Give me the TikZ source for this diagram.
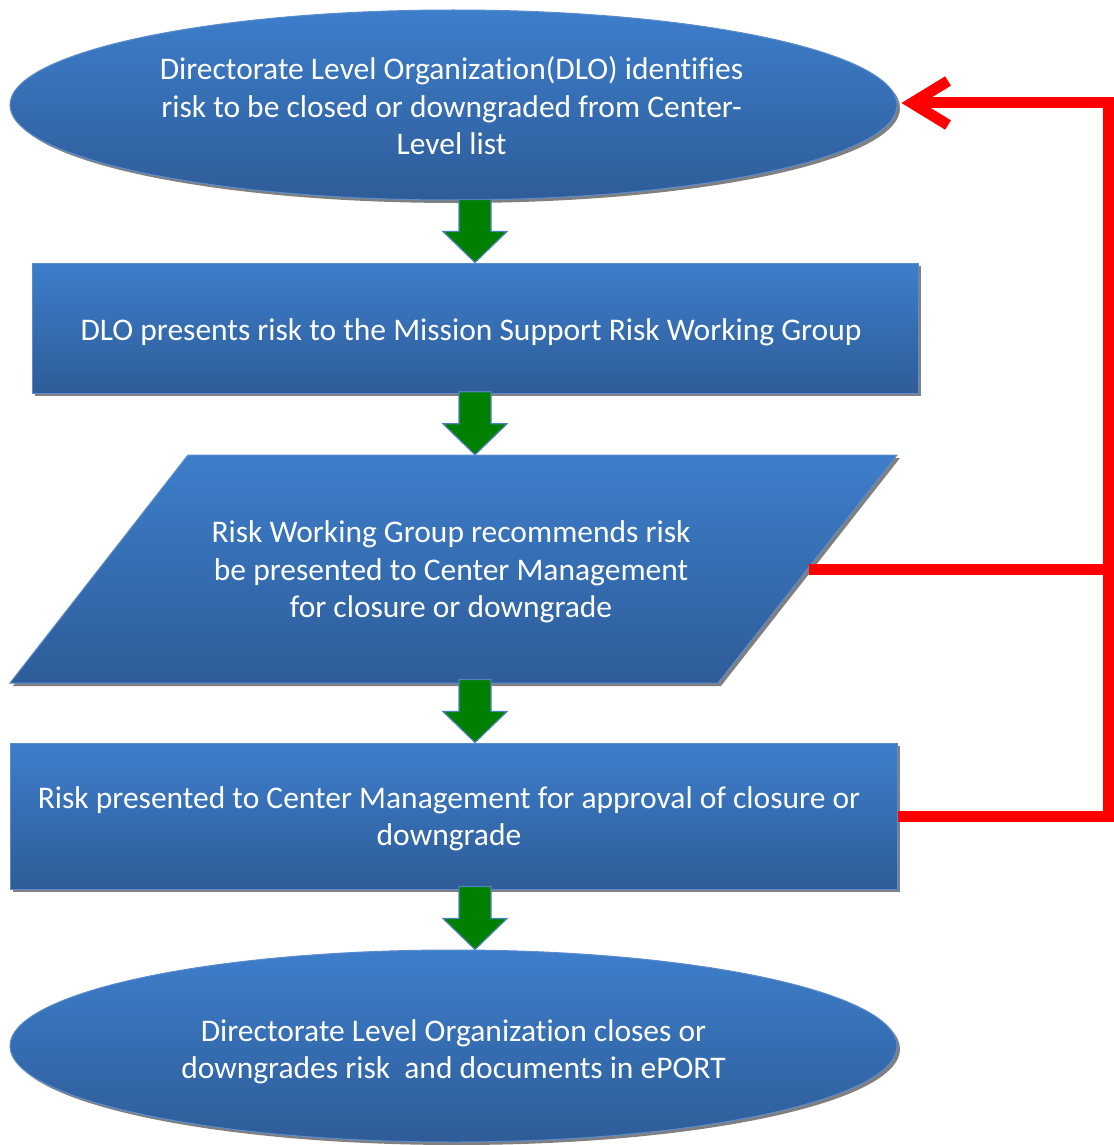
\documentclass[tikz,border=0pt]{standalone}
\usepackage{fontspec}
\setmainfont{Carlito}[Ligatures=NoCommon]
\usetikzlibrary{shapes.geometric,shadows,arrows.meta,calc}
\definecolor{bluetop}{RGB}{61,126,203}
\definecolor{bluebot}{RGB}{46,92,152}
\definecolor{blueedge}{RGB}{93,140,205}
\definecolor{garrowfill}{RGB}{0,128,0}
\definecolor{garrowedge}{RGB}{79,129,189}
\begin{document}
\begin{tikzpicture}[x=1pt,y=-1pt,
  shapefill/.style={draw=blueedge, line width=1pt, top color=bluetop, bottom color=bluebot,
    drop shadow={shadow xshift=3pt, shadow yshift=-3pt, fill=black!50, opacity=1}, inner sep=0pt},
  label/.style={text=white, font=\fontsize{31.5}{37.5}\selectfont, align=center, inner sep=0pt},
  garrow/.style={fill=garrowfill, draw=garrowedge, line width=1.2pt, line join=miter},
  redline/.style={draw=red, line width=11pt, line join=miter}
]
\useasboundingbox (0,0) rectangle (1113,1145);

% shapes
\node[shapefill, ellipse, minimum width=887pt, minimum height=190pt] (e1) at (453.5,105) {};
\node[shapefill, rectangle, minimum width=886pt, minimum height=130pt] (r2) at (475,328) {};
\path[shapefill] (188,455) -- (897,455) -- (718,683) -- (10,683) -- cycle;
\coordinate (p3e) at (809,569);
\node[shapefill, rectangle, minimum width=887pt, minimum height=146pt] (r4) at (453.5,816) {};
\node[shapefill, ellipse, minimum width=887pt, minimum height=192pt] (e5) at (453.5,1046) {};

% texts
\node[label] (e1t) at (451.5,106)
  {Directorate Level Organization(DLO) identifies\\risk to be closed or downgraded from Center-\\Level list};
\node[label] (r2t) at (471,332)
  {DLO presents risk to the Mission Support Risk Working Group};
\node[label, minimum height=234pt] (p3) at (451,572)
  {Risk Working Group recommends risk\\be presented to Center Management\\for closure or downgrade};
\node[label] (r4t) at (449,819)
  {Risk presented to Center Management for approval of closure or\\downgrade};
\node[label] (e5t) at (453.5,1052)
  {Directorate Level Organization closes or\\downgrades risk~ and documents in ePORT};

% green down arrows (tip at target's top)
\foreach \t in {r2, p3, r4, e5}{
  \draw[garrow] (r2.north |- \t.north) -- ++(-32,-31) -- ++(16,0) -- ++(0,-32) -- ++(32,0)
    -- ++(0,32) -- ++(16,0) -- cycle;
}

% red feedback connectors
\coordinate (bus) at (1108,103);
\draw[redline] (p3e) -- (p3e -| bus);
\draw[redline, -{Straight Barb[sharp, length=36pt, width=44pt]}]
  (r4.east) -| (bus) -- ($(e1.east)+(4,-2)$);
\end{tikzpicture}
\end{document}
